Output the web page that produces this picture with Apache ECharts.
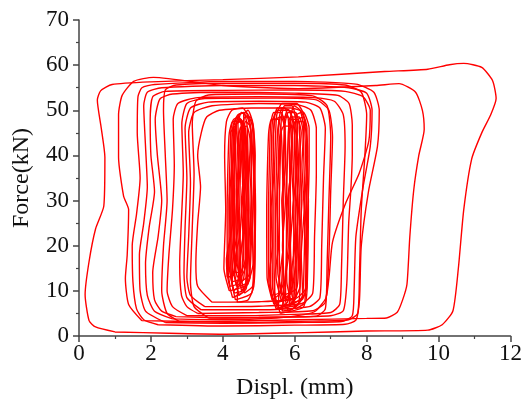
<!DOCTYPE html>
<html>
<head>
<meta charset="utf-8">
<script src="https://cdn.jsdelivr.net/npm/echarts@6/dist/echarts.min.js"></script>
<style>html,body{margin:0;padding:0;background:#fff}#c{width:525px;height:405px}</style>
</head>
<body>
<div id="c"></div>
<script>
// Axis ticks
var xTicks = [0, 2, 4, 6, 8, 10, 12];
var yTicks = [0, 10, 20, 30, 40, 50, 60, 70];

// Wide hysteresis loops [displacement mm, force kN]
var loop1 = [[1.0,0.9],[2.5,0.6],[4.0,0.4],[6.0,0.7],[8.0,1.1],[9.7,1.3],[10.1,2.5],[10.4,5.6],[10.55,15],[10.7,28],[10.92,39.2],[11.2,45],[11.45,49],[11.6,52.6],[11.5,56.6],[11.2,59.5],[10.7,60.4],[10.3,60.1],[9.7,59.1],[8.5,58.6],[6.1,57.4],[4.0,56.8],[2.0,56.3],[0.92,55.7],[0.6,54.3],[0.51,52.3],[0.62,46],[0.72,39.6],[0.69,28.8],[0.46,23.7],[0.28,16.5],[0.17,9.2],[0.28,3.4],[0.46,2.0],[1.0,0.9]];
var loop2 = [[1.75,3.4],[3.5,3.2],[6.1,3.6],[8.0,3.9],[8.55,4.0],[8.85,5.25],[9.0,8],[9.12,11.4],[9.2,22],[9.31,32.4],[9.45,40],[9.6,45.8],[9.55,50],[9.36,54],[8.9,55.9],[8.25,55.5],[6.1,54.8],[4.0,55.5],[2.07,57.3],[1.52,56.4],[1.2,53.3],[1.1,49],[1.1,39.6],[1.24,31],[1.38,28],[1.34,17.9],[1.29,12.8],[1.38,7],[1.75,3.4]];
var loop3 = [[2.2,2.5],[4,2.2],[6,2.4],[7.4,2.6],[7.7,3.5],[7.8,8],[7.85,20],[8.05,32],[8.3,42],[8.35,50],[8.2,54],[7.7,55.8],[6,56.4],[4,56.4],[2.1,55.7],[1.75,55],[1.64,53],[1.62,45],[1.7,35],[1.6,27],[1.48,20],[1.5,12],[1.6,6],[1.8,3.6],[2.2,2.5]];
var loop4 = [[2.4,3.0],[4,2.8],[6,3.0],[7.3,3.2],[7.6,4.5],[7.65,10],[7.7,22],[7.9,33],[8.1,42],[8.15,50],[8.0,53.8],[7.5,55.0],[6,55.5],[4,55.5],[2.3,55.0],[1.9,54],[1.8,51],[1.85,42],[1.9,33],[1.8,25],[1.68,18],[1.7,10],[1.85,5.5],[2.4,3.0]];
var loop5 = [[2.6,3.8],[4,3.6],[5.5,4.0],[6.3,4.8],[6.59,5.6],[6.87,8.5],[6.96,13.6],[7.05,20.8],[7.42,29.5],[7.79,36],[8.06,43.2],[8.1,50],[7.9,53],[7.4,54.2],[6,54.5],[4,54.4],[2.4,54.2],[2.05,53],[1.98,48],[2.0,40],[2.1,32],[1.95,24],[1.85,16],[1.9,9],[2.1,5.5],[2.6,3.8]];
var loop6 = [[2.7,4.3],[4,4.0],[5.5,4.2],[7.0,4.5],[7.35,5.6],[7.45,12],[7.5,25],[7.56,32.4],[7.6,40],[7.6,46.8],[7.51,51.5],[7.2,53.3],[6,53.8],[4,54],[2.6,53.6],[2.25,52.5],[2.12,48],[2.18,40],[2.3,30],[2.2,22],[2.05,14],[2.1,8],[2.3,5.5],[2.7,4.3]];
var loop7 = [[3.0,4.5],[4.5,4.5],[6,4.8],[7.0,5.2],[7.25,7],[7.3,15],[7.35,30],[7.4,42],[7.35,49],[7.1,52],[6.5,52.8],[5,53],[3.3,52.8],[2.75,51.5],[2.62,48],[2.65,38],[2.6,28],[2.5,18],[2.45,10],[2.6,6.5],[3.0,4.5]];
var loop8 = [[3.3,5.0],[5,5.2],[6.5,5.6],[6.85,7.5],[6.95,18],[7.0,32],[7.05,44],[6.95,50],[6.6,52.3],[5.5,52.7],[3.5,52.6],[3.0,51.5],[2.86,47],[2.9,36],[2.85,26],[2.8,16],[2.85,9],[3.0,6.5],[3.3,5.0]];
var loop9 = [[3.4,5.8],[5,5.8],[6.4,6.5],[6.7,8.5],[6.75,20],[6.8,35],[6.85,46],[6.7,50.5],[6.3,51.8],[5,52],[3.6,51.8],[3.1,50.5],[2.95,46],[3.0,35],[2.95,24],[2.92,14],[3.0,8.5],[3.4,5.8]];
var loop10 = [[3.5,6.5],[5,6.6],[6.2,7.2],[6.5,9.5],[6.55,22],[6.6,36],[6.6,46],[6.45,50],[6.1,51.2],[5,51.5],[3.7,51],[3.2,49.5],[3.05,45],[3.1,34],[3.05,22],[3.0,13],[3.1,9],[3.5,6.5]];
var loop11 = [[3.7,7.5],[5,7.6],[6.0,8.2],[6.3,10.5],[6.35,24],[6.4,38],[6.4,46],[6.25,49.5],[5.9,50.5],[4.8,50.5],[3.9,50.0],[3.55,48.5],[3.4,45],[3.3,40],[3.38,33],[3.3,25],[3.25,16],[3.3,11],[3.7,7.5]];
var loop12 = [[3.6,4.0],[5,4.1],[6.6,4.4],[6.85,6],[6.9,16],[6.95,30],[7.0,44],[6.9,51],[6.5,53.2],[5,53.6],[3.6,53.4],[3.25,52],[3.15,47],[3.2,36],[3.15,24],[3.1,12],[3.2,6.5],[3.6,4.0]];
var loop13 = [[2.8,3.2],[4.5,3.0],[6.5,3.3],[7.5,3.6],[7.75,5],[7.8,14],[7.85,28],[7.95,40],[8.0,49],[7.85,54],[7.4,55.6],[6,56],[4,56],[2.7,55.6],[2.4,54.5],[2.35,50],[2.4,40],[2.45,30],[2.35,20],[2.3,10],[2.45,5],[2.8,3.2]];

// Narrow loops, left dense group
var lc1 = [[4.30,10],[4.50,11.5],[4.55,16],[4.58,28],[4.55,40],[4.52,46],[4.45,48.5],[4.30,48],[4.23,46],[4.20,40],[4.17,28],[4.18,15],[4.30,10]];
var lc2 = [[4.38,11],[4.57,12.5],[4.62,17],[4.65,28],[4.62,40],[4.59,45],[4.50,47.5],[4.38,47],[4.31,45],[4.28,40],[4.25,28],[4.26,16],[4.38,11]];
var lc3 = [[4.45,9],[4.65,10.5],[4.70,15],[4.73,28],[4.70,40],[4.67,47],[4.58,49.5],[4.45,49],[4.38,47],[4.35,40],[4.32,28],[4.33,14],[4.45,9]];
var lc4 = [[4.50,12],[4.73,13.5],[4.78,18],[4.81,28],[4.78,40],[4.75,44],[4.66,46.5],[4.50,46],[4.43,44],[4.40,40],[4.37,28],[4.38,17],[4.50,12]];
var lc5 = [[4.35,8],[4.80,9.5],[4.85,14],[4.88,28],[4.85,40],[4.82,46.5],[4.65,49.5],[4.42,49],[4.28,46.5],[4.25,40],[4.22,28],[4.23,13],[4.35,8]];
var lc6 = [[4.52,10],[4.64,11.5],[4.68,16],[4.71,28],[4.68,40],[4.65,43],[4.60,45.5],[4.52,45.5],[4.48,43],[4.45,40],[4.42,28],[4.43,15],[4.52,10]];
var lc7 = [[4.40,13],[4.54,14.5],[4.58,19],[4.61,28],[4.58,40],[4.55,45.5],[4.49,48],[4.40,48],[4.35,45.5],[4.32,40],[4.29,28],[4.30,18],[4.40,13]];
var lc8 = [[4.60,9.5],[4.83,11],[4.88,15.5],[4.91,28],[4.88,40],[4.85,46],[4.76,48.5],[4.62,48.5],[4.53,46],[4.50,40],[4.47,28],[4.48,14.5],[4.60,9.5]];
var lc9 = [[4.18,10],[4.70,11.5],[4.75,16],[4.78,28],[4.80,40],[4.75,47.5],[4.55,50.5],[4.25,50],[4.10,47.5],[4.05,40],[4.08,28],[4.03,15],[4.18,10]];
var lc10 = [[4.27,8.5],[4.60,10],[4.65,14.5],[4.68,28],[4.65,40],[4.62,45],[4.50,47.5],[4.28,47.5],[4.18,45],[4.15,40],[4.12,28],[4.13,13.5],[4.27,8.5]];
var lc11 = [[4.25,12],[4.45,12.5],[4.62,15],[4.66,22],[4.60,30],[4.68,38],[4.64,44],[4.55,47.5],[4.40,48.5],[4.30,46],[4.33,38],[4.26,30],[4.30,22],[4.22,16],[4.25,12]];
var lc12 = [[4.32,9.5],[4.55,10],[4.76,13],[4.72,20],[4.80,30],[4.74,38],[4.78,45],[4.68,48.5],[4.52,49.5],[4.42,47],[4.45,40],[4.38,32],[4.42,24],[4.30,18],[4.26,12],[4.32,9.5]];
var lc13 = [[4.20,11],[4.38,11.5],[4.50,14],[4.48,22],[4.56,32],[4.52,40],[4.58,46],[4.50,48],[4.36,47],[4.32,42],[4.25,34],[4.28,26],[4.18,20],[4.15,14],[4.20,11]];
var lc14 = [[4.48,11],[4.70,12],[4.84,16],[4.82,24],[4.86,34],[4.82,42],[4.76,46.5],[4.64,47.5],[4.56,45],[4.60,38],[4.52,30],[4.56,22],[4.46,16],[4.48,11]];
var lc15 = [[4.12,13],[4.30,13.5],[4.40,17],[4.36,26],[4.44,36],[4.40,44],[4.34,46.5],[4.22,45],[4.25,38],[4.18,30],[4.20,22],[4.10,17],[4.12,13]];
var lc16 = [[4.40,7.5],[4.70,8],[4.86,11],[4.90,20],[4.86,30],[4.90,40],[4.84,47],[4.70,50],[4.58,49],[4.62,42],[4.55,34],[4.60,26],[4.50,18],[4.42,12],[4.40,7.5]];
var lc17 = [[4.35,14],[4.52,14.5],[4.66,18],[4.62,26],[4.70,35],[4.66,43],[4.60,47],[4.48,46],[4.48,38],[4.42,30],[4.46,22],[4.36,18],[4.35,14]];

// Narrow loops, right dense group
var rc1 = [[5.42,7],[5.70,8.5],[5.75,13],[5.78,28],[5.75,40],[5.72,47],[5.62,49.5],[5.42,49.5],[5.33,47],[5.30,40],[5.27,28],[5.28,12],[5.42,7]];
var rc2 = [[5.52,6],[5.80,7.5],[5.85,12],[5.88,28],[5.85,40],[5.82,48],[5.72,50.5],[5.52,50.5],[5.43,48],[5.40,40],[5.37,28],[5.38,11],[5.52,6]];
var rc3 = [[5.62,8],[5.90,9.5],[5.95,14],[5.98,28],[5.95,40],[5.92,46],[5.82,48.5],[5.62,48.5],[5.53,46],[5.50,40],[5.47,28],[5.48,13],[5.62,8]];
var rc4 = [[5.72,6.5],[6.00,8],[6.05,12.5],[6.08,28],[6.05,40],[6.02,48.5],[5.92,51],[5.72,51],[5.63,48.5],[5.60,40],[5.57,28],[5.58,11.5],[5.72,6.5]];
var rc5 = [[5.82,5.5],[6.10,7],[6.15,11.5],[6.18,28],[6.15,40],[6.12,47],[6.02,49.5],[5.82,49.5],[5.73,47],[5.70,40],[5.67,28],[5.68,10.5],[5.82,5.5]];
var rc6 = [[5.92,7],[6.20,8.5],[6.25,13],[6.28,28],[6.25,40],[6.22,46],[6.12,48.5],[5.92,48.5],[5.83,46],[5.80,40],[5.77,28],[5.78,12],[5.92,7]];
var rc7 = [[5.60,5],[6.25,6.5],[6.30,11],[6.33,28],[6.30,40],[6.25,49],[6.05,51.5],[5.65,51.5],[5.50,49],[5.45,40],[5.42,28],[5.43,10],[5.60,5]];
var rc8 = [[6.02,6],[6.30,7.5],[6.35,12],[6.38,28],[6.35,40],[6.32,45],[6.22,47.5],[6.02,47.5],[5.93,45],[5.90,40],[5.87,28],[5.88,11],[6.02,6]];
var rc9 = [[5.67,9],[6.05,10.5],[6.10,15],[6.13,28],[6.10,40],[6.07,44],[5.95,46.5],[5.70,46.5],[5.58,44],[5.55,40],[5.52,28],[5.53,14],[5.67,9]];
var rc10 = [[5.48,6],[5.95,7.5],[6.00,12],[6.03,28],[6.00,40],[5.97,47.5],[5.82,50],[5.52,50],[5.38,47.5],[5.35,40],[5.32,28],[5.33,11],[5.48,6]];
var rc11 = [[5.37,8],[5.60,9.5],[5.65,14],[5.68,28],[5.65,40],[5.62,45.5],[5.53,48],[5.36,48],[5.28,45.5],[5.25,40],[5.22,28],[5.23,13],[5.37,8]];
var rc12 = [[5.45,7.5],[5.75,8],[5.92,11],[5.88,20],[5.96,30],[5.90,40],[5.95,47],[5.85,50],[5.65,50.5],[5.55,47],[5.58,40],[5.50,30],[5.55,20],[5.44,13],[5.45,7.5]];
var rc13 = [[5.65,5.5],[5.95,6],[6.22,9],[6.18,18],[6.26,28],[6.20,38],[6.25,46],[6.15,50],[5.98,51],[5.88,48],[5.92,40],[5.82,30],[5.86,20],[5.72,12],[5.65,5.5]];
var rc14 = [[5.35,9],[5.55,9.5],[5.70,12],[5.66,20],[5.74,30],[5.68,40],[5.72,46],[5.62,48.5],[5.46,48],[5.40,44],[5.42,36],[5.34,28],[5.38,20],[5.30,14],[5.35,9]];
var rc15 = [[5.85,6.5],[6.10,7],[6.30,10],[6.34,20],[6.28,30],[6.36,40],[6.30,47],[6.18,49.5],[6.05,49],[6.00,44],[6.04,36],[5.95,28],[6.00,20],[5.88,13],[5.85,6.5]];
var rc16 = [[5.55,6],[5.85,6.5],[6.05,9],[6.02,18],[6.10,28],[6.04,38],[6.08,46],[5.98,49.5],[5.80,50],[5.70,47],[5.74,38],[5.64,30],[5.68,20],[5.56,12],[5.55,6]];
var rc17 = [[5.75,8],[6.00,8.5],[6.15,11],[6.12,20],[6.20,30],[6.14,40],[6.18,45],[6.08,48],[5.92,48],[5.84,44],[5.88,36],[5.78,28],[5.82,20],[5.74,13],[5.75,8]];
var rc18 = [[5.95,7.5],[6.20,8],[6.34,11],[6.30,20],[6.38,30],[6.32,40],[6.34,46],[6.25,48.5],[6.10,48],[6.05,43],[6.10,35],[6.02,26],[6.06,18],[5.96,12],[5.95,7.5]];

var loops = [loop1, loop2, loop3, loop4, loop5, loop6, loop7, loop8, loop9, loop10, loop11, loop12, loop13,
  lc1, lc2, lc3, lc4, lc5, lc6, lc7, lc8, lc9, lc10, lc11, lc12, lc13, lc14, lc15, lc16, lc17,
  rc1, rc2, rc3, rc4, rc5, rc6, rc7, rc8, rc9, rc10, rc11, rc12, rc13, rc14, rc15, rc16, rc17, rc18];

var serif = "'Liberation Serif', 'Times New Roman', serif";
var chart = echarts.init(document.getElementById('c'), null, {renderer: 'canvas'});
var series = loops.map(function (d) {
  return {
    type: 'line', data: d, showSymbol: false, smooth: 0.2, animation: false,
    lineStyle: {color: '#ff0000', width: 1.4}, silent: true
  };
});
var axisCommon = {
  type: 'value',
  axisLine: {show: true, lineStyle: {color: '#444', width: 1.5}},
  axisTick: {show: true, inside: false, length: 6, lineStyle: {color: '#444', width: 1.5}},
  minorTick: {show: true, splitNumber: 2, length: 3, lineStyle: {color: '#444', width: 1.2}},
  splitLine: {show: false},
  axisLabel: {color: '#111', fontFamily: serif, fontSize: 23},
  nameLocation: 'middle',
  nameTextStyle: {color: '#111', fontFamily: serif, fontSize: 24}
};
chart.setOption({
  backgroundColor: '#fff',
  animation: false,
  grid: {left: 79, right: 13, top: 20, bottom: 62.5, containLabel: false},
  xAxis: Object.assign({}, axisCommon, {
    min: xTicks[0], max: xTicks[xTicks.length - 1], interval: xTicks[1] - xTicks[0],
    name: 'Displ. (mm)', nameGap: 40,
    axisLabel: Object.assign({}, axisCommon.axisLabel, {margin: 6})
  }),
  yAxis: Object.assign({}, axisCommon, {
    min: yTicks[0], max: yTicks[yTicks.length - 1], interval: yTicks[1] - yTicks[0],
    name: 'Force(kN)', nameGap: 45,
    axisLabel: Object.assign({}, axisCommon.axisLabel, {margin: 10})
  }),
  series: series
});
</script>
</body>
</html>
